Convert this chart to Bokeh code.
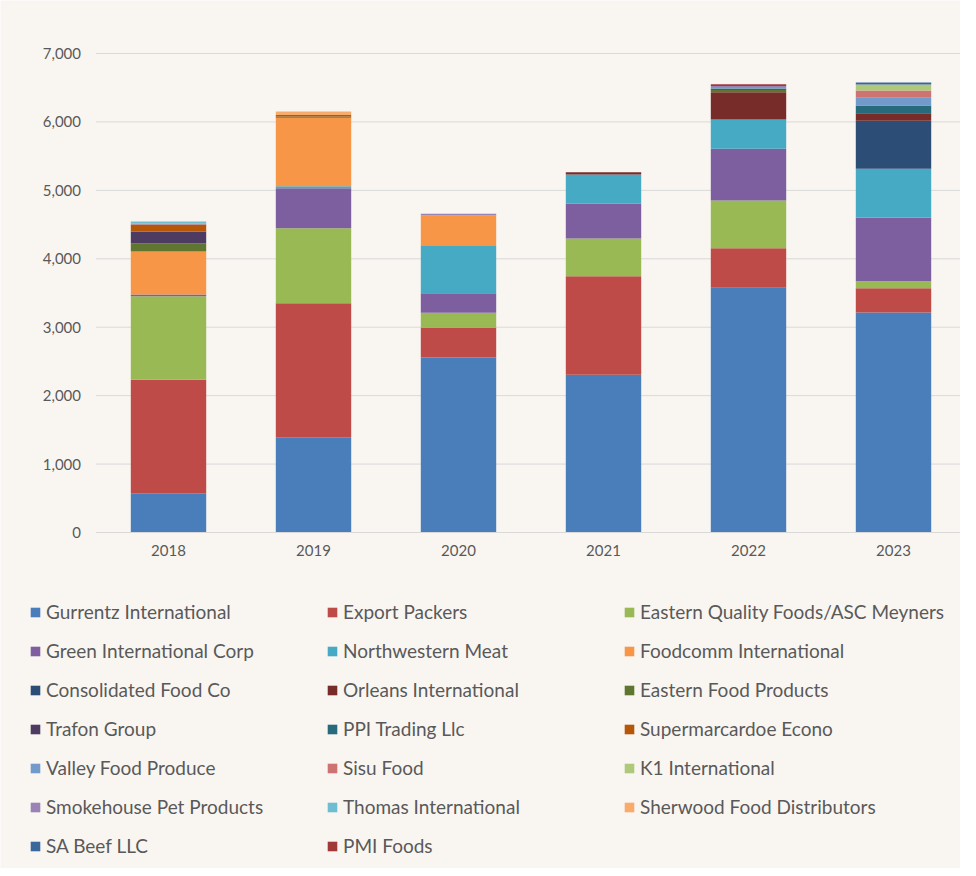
from bokeh.plotting import figure
from bokeh.models import ColumnDataSource, Legend, LegendItem, Range1d, FixedTicker, NumeralTickFormatter
from bokeh.embed import file_html
from bokeh.resources import INLINE

years = ["2018", "2019", "2020", "2021", "2022", "2023"]
y_ticks = [0, 1000, 2000, 3000, 4000, 5000, 6000, 7000]

gurrentz     = [574, 1393, 2557, 2304, 3576, 3215]
export_pack  = [1657, 1958, 439, 1442, 579, 355]
eastern_q    = [1222, 1096, 214, 550, 697, 102]
green_intl   = [25, 584, 287, 507, 755, 931]
northwestern = [0, 30, 702, 429, 428, 712]
foodcomm     = [628, 999, 434, 0, 0, 0]
consolidated = [0, 0, 0, 0, 0, 701]
orleans      = [0, 0, 0, 34, 399, 112]
eastern_fp   = [117, 20, 0, 0, 32, 0]
trafon       = [176, 0, 0, 0, 0, 0]
ppi          = [0, 0, 0, 0, 22, 112]
supermarc    = [102, 20, 0, 0, 0, 0]
valley       = [0, 0, 0, 0, 22, 112]
sisu         = [0, 0, 0, 0, 0, 107]
k1           = [0, 0, 0, 0, 0, 88]
smokehouse   = [10, 0, 24, 0, 15, 0]
thomas       = [34, 0, 0, 0, 0, 0]
sherwood     = [0, 52, 0, 0, 0, 0]
sa_beef      = [0, 0, 0, 0, 0, 29]
pmi          = [0, 0, 0, 0, 26, 0]

labels = ["Gurrentz International", "Export Packers", "Eastern Quality Foods/ASC Meyners",
          "Green International Corp", "Northwestern Meat", "Foodcomm International",
          "Consolidated Food Co", "Orleans International", "Eastern Food Products",
          "Trafon Group", "PPI Trading Llc", "Supermarcardoe Econo",
          "Valley Food Produce", "Sisu Food", "K1 International",
          "Smokehouse Pet Products", "Thomas International", "Sherwood Food Distributors",
          "SA Beef LLC", "PMI Foods"]
series = [gurrentz, export_pack, eastern_q, green_intl, northwestern, foodcomm,
          consolidated, orleans, eastern_fp, trafon, ppi, supermarc, valley, sisu,
          k1, smokehouse, thomas, sherwood, sa_beef, pmi]
colors = ["#4a7ebb", "#be4b48", "#98b954", "#7d5fa0", "#46aac5", "#f79646",
          "#2c4d75", "#772c2a", "#5f7530", "#4d3b62", "#276a7c", "#b65708",
          "#729aca", "#cd7371", "#afc97a", "#9983b5", "#6fbdd1", "#f9ab6b",
          "#3a679c", "#9f3a38"]

# category positions on a numeric axis (one unit per year)
xpos = [i + 0.5 for i in range(len(years))]
keys = ["s%d" % i for i in range(len(series))]
data = {"x": xpos}
for k, s in zip(keys, series):
    data[k] = s
source = ColumnDataSource(data)

W, H = 960, 868
plot_left, plot_right_units = 95.5, len(years)
px_per_unit = 145.0
y_top_px, y_zero_px = 53.0, 532.0
px_per_val = (y_zero_px - y_top_px) / 7000.0
x0 = -plot_left / px_per_unit
x1 = x0 + W / px_per_unit
y1 = 7000 + y_top_px / px_per_val
y0 = -(H - y_zero_px) / px_per_val

bg = "#f9f6f2"
p = figure(x_range=Range1d(x0, x1), y_range=Range1d(y0, y1),
           width=W, height=H, output_backend="svg", toolbar_location=None,
           background_fill_color=bg, border_fill_color=bg, min_border=0)
p.outline_line_color = None
p.grid.visible = False

# horizontal gridlines at the y ticks, spanning the category area
p.multi_line(xs=[[0, plot_right_units] for _ in y_ticks], ys=[[t, t] for t in y_ticks],
             line_color="#d9d9d9", line_width=1)

renderers = p.vbar_stack(keys, x="x", width=0.52, color=colors, source=source,
                         line_color=None)

p.yaxis.fixed_location = 0
p.yaxis.ticker = FixedTicker(ticks=y_ticks)
p.yaxis.formatter = NumeralTickFormatter(format="0,0")
p.yaxis.axis_line_color = None
p.yaxis.major_tick_line_color = None
p.yaxis.minor_tick_line_color = None
p.yaxis.major_tick_out = 0
p.yaxis.major_tick_in = 0
p.yaxis.bounds = (0, 7000)

p.xaxis.fixed_location = 0
p.xaxis.ticker = FixedTicker(ticks=xpos)
p.xaxis.major_label_overrides = {x: y for x, y in zip(xpos, years)}
p.xaxis.bounds = (0, plot_right_units)
p.xaxis.axis_line_color = "#d9d9d9"
p.xaxis.major_tick_line_color = None
p.xaxis.minor_tick_line_color = None
p.xaxis.major_tick_out = 0
p.xaxis.major_tick_in = 0
for ax in (p.xaxis, p.yaxis):
    ax.major_label_text_font = "Lato"
    ax.major_label_text_font_size = "15px"
    ax.major_label_text_color = "#595959"
p.yaxis.major_label_standoff = 15
p.xaxis.major_label_standoff = 12

items = [LegendItem(label=l, renderers=[r]) for l, r in zip(labels, renderers)]
legend = Legend(items=items, orientation="horizontal", ncols=3, location=(29, 11),
                glyph_width=12, glyph_height=12, label_standoff=5, label_width=264,
                label_text_font="Lato", label_text_font_size="19px",
                label_text_color="#595959", spacing=16,
                border_line_color=None, background_fill_alpha=0,
                padding=0, margin=0)
p.add_layout(legend, "center")

open("out.html", "w").write(file_html(p, INLINE))
